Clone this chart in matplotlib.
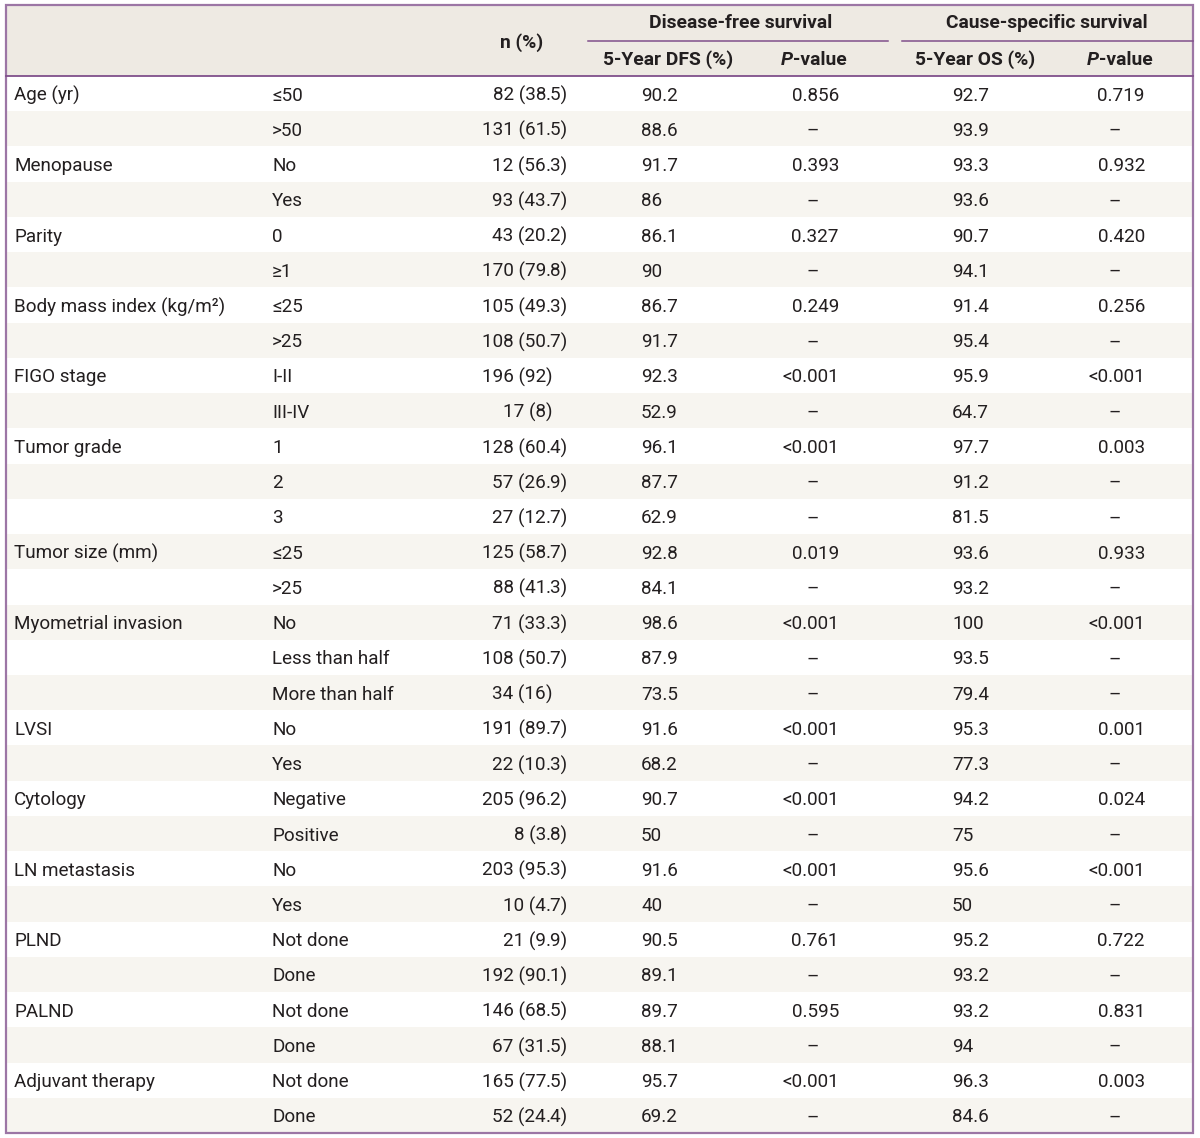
import matplotlib.pyplot as plt
from matplotlib.patches import Rectangle

# table data, one entry per row
variables = ["Age (yr)", "", "Menopause", "", "Parity", "",
             "Body mass index (kg/m²)", "", "FIGO stage", "",
             "Tumor grade", "", "", "Tumor size (mm)", "",
             "Myometrial invasion", "", "", "LVSI", "", "Cytology", "",
             "LN metastasis", "", "PLND", "", "PALND", "",
             "Adjuvant therapy", ""]
levels = ["≤50", ">50", "No", "Yes", "0", "≥1", "≤25", ">25", "I-II", "III-IV",
          "1", "2", "3", "≤25", ">25", "No", "Less than half", "More than half",
          "No", "Yes", "Negative", "Positive", "No", "Yes", "Not done", "Done",
          "Not done", "Done", "Not done", "Done"]
n_pct = ["82 (38.5)", "131 (61.5)", "12 (56.3)", "93 (43.7)", "43 (20.2)",
         "170 (79.8)", "105 (49.3)", "108 (50.7)", "196 (92)", "17 (8)",
         "128 (60.4)", "57 (26.9)", "27 (12.7)", "125 (58.7)", "88 (41.3)",
         "71 (33.3)", "108 (50.7)", "34 (16)", "191 (89.7)", "22 (10.3)",
         "205 (96.2)", "8 (3.8)", "203 (95.3)", "10 (4.7)", "21 (9.9)",
         "192 (90.1)", "146 (68.5)", "67 (31.5)", "165 (77.5)", "52 (24.4)"]
dfs = ["90.2", "88.6", "91.7", "86", "86.1", "90", "86.7", "91.7", "92.3", "52.9",
       "96.1", "87.7", "62.9", "92.8", "84.1", "98.6", "87.9", "73.5", "91.6", "68.2",
       "90.7", "50", "91.6", "40", "90.5", "89.1", "89.7", "88.1", "95.7", "69.2"]
p_dfs = ["0.856", "–", "0.393", "–", "0.327", "–", "0.249", "–", "<0.001", "–",
         "<0.001", "–", "–", "0.019", "–", "<0.001", "–", "–", "<0.001", "–",
         "<0.001", "–", "<0.001", "–", "0.761", "–", "0.595", "–", "<0.001", "–"]
os_ = ["92.7", "93.9", "93.3", "93.6", "90.7", "94.1", "91.4", "95.4", "95.9", "64.7",
       "97.7", "91.2", "81.5", "93.6", "93.2", "100", "93.5", "79.4", "95.3", "77.3",
       "94.2", "75", "95.6", "50", "95.2", "93.2", "93.2", "94", "96.3", "84.6"]
p_os = ["0.719", "–", "0.932", "–", "0.420", "–", "0.256", "–", "<0.001", "–",
        "0.003", "–", "–", "0.933", "–", "<0.001", "–", "–", "0.001", "–",
        "0.024", "–", "<0.001", "–", "0.722", "–", "0.831", "–", "0.003", "–"]

W, H = 1200, 1138
left, right, top, bottom = 6, 1193, 5, 1133
head_bottom = 76
purple = "#9c76a5"
dark_purple = "#80508b"
head_bg = "#eeeae3"
stripe = "#f7f5f0"
txt = "#231f20"

plt.rcParams['font.family'] = ['Roboto', 'DejaVu Sans']
fs = 13.6

fig = plt.figure(figsize=(12, 11.38), dpi=100)
ax = fig.add_axes([0, 0, 1, 1])
ax.set_xlim(0, W)
ax.set_ylim(H, 0)
ax.axis('off')

# backgrounds
ax.add_patch(Rectangle((left, top), right - left, head_bottom - top, color=head_bg, lw=0))
nrows = len(levels)
rh = (bottom - head_bottom) / nrows
for i in range(nrows):
    if i % 2 == 1:
        ax.add_patch(Rectangle((left, head_bottom + i * rh), right - left, rh,
                               color=stripe, lw=0))

# lines
ax.add_patch(Rectangle((left, top), right - left, bottom - top, fill=False,
                       edgecolor=purple, lw=1.6))
ax.plot([left, right], [head_bottom, head_bottom], color=dark_purple, lw=1.3)
ax.plot([588, 888], [41, 41], color=dark_purple, lw=1.1)
ax.plot([902, right], [41, 41], color=dark_purple, lw=1.1)

# header
hk = dict(fontsize=fs + 0.3, fontweight='bold', color=txt, va='center')
ax.text(522, 43, "n (%)", ha='center', **hk)
ax.text(741, 23, "Disease-free survival", ha='center', **hk)
ax.text(1047, 23, "Cause-specific survival", ha='center', **hk)
ax.text(668, 60, "5-Year DFS (%)", ha='center', **hk)
ax.text(975, 60, "5-Year OS (%)", ha='center', **hk)
for px in (781, 1087):
    tp = ax.text(px, 60, "P", ha='left', fontstyle='italic', **hk)
    ax.annotate("-value", xy=(1, 0.5), xycoords=tp, ha='left', **hk)

# body
bk = dict(fontsize=fs, color=txt, va='center')
for i in range(nrows):
    y = head_bottom + (i + 0.5) * rh + 2
    ax.text(14, y, variables[i], ha='left', **bk)
    ax.text(272, y, levels[i], ha='left', **bk)
    # n (%) aligned on the decimal point
    s = n_pct[i]
    if '.' in s:
        a, b = s.split('.')
        b = '.' + b
    else:
        a, b = s[:-1], ')'
    ax.text(546, y, a, ha='right', **bk)
    ax.text(546, y, b, ha='left', **bk)
    ax.text(641, y, dfs[i], ha='left', **bk)
    ax.text(952, y, os_[i], ha='left', **bk)
    if p_dfs[i] == '–':
        ax.text(813, y, p_dfs[i], ha='center', **bk)
    else:
        ax.text(839, y, p_dfs[i], ha='right', **bk)
    if p_os[i] == '–':
        ax.text(1115, y, p_os[i], ha='center', **bk)
    else:
        ax.text(1145, y, p_os[i], ha='right', **bk)

fig.savefig("out.png", dpi=100, facecolor='white')
